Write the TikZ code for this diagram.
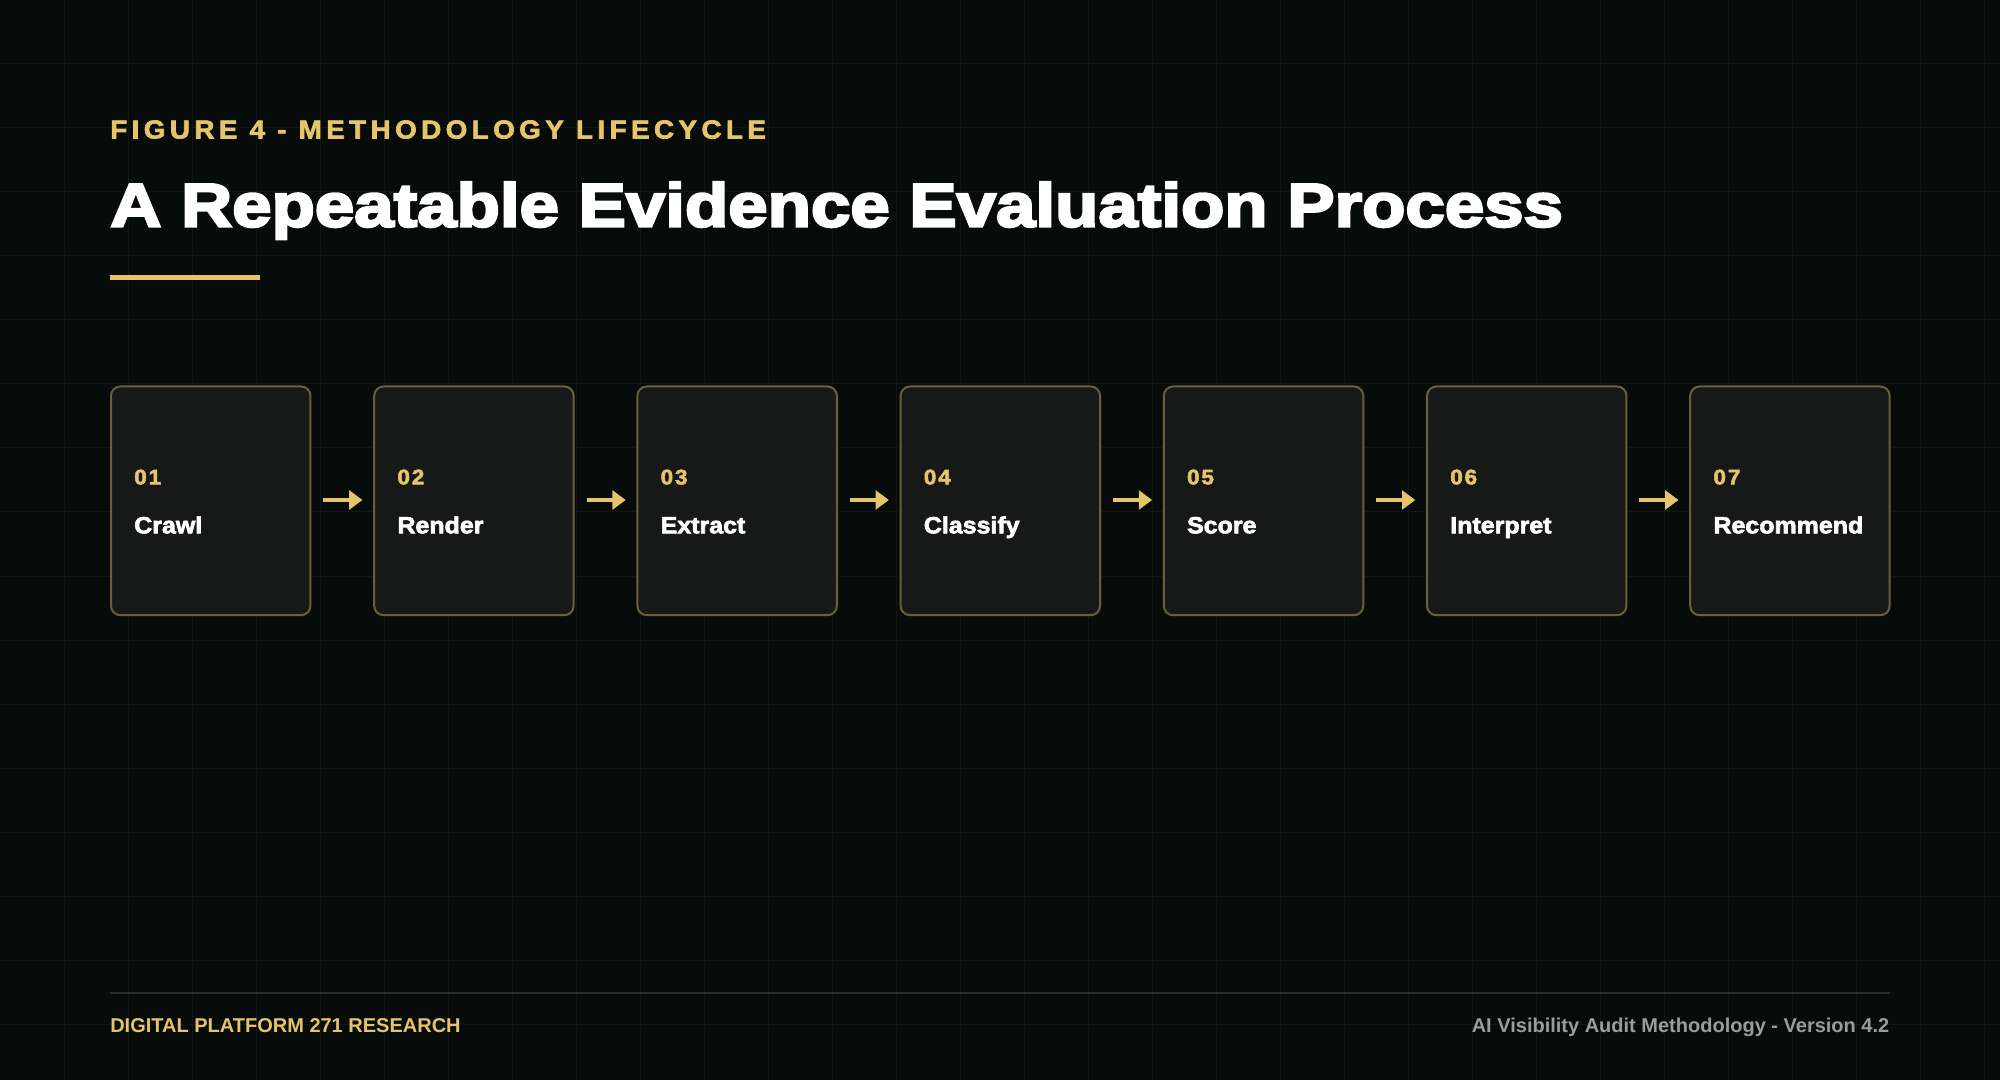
\documentclass[tikz,border=0pt]{standalone}
\usepackage{fontspec}
\setmainfont{Liberation Sans}
\newfontfamily\titlefont[FakeStretch=1.155,FakeBold=4]{Liberation Sans Bold}
\newfontfamily\labelfont[FakeStretch=1.07,FakeBold=2.5,LetterSpace=17]{Liberation Sans Bold}
\newfontfamily\numfont[FakeStretch=1.07,FakeBold=2.5,LetterSpace=9]{Liberation Sans Bold}
\newfontfamily\stepfont[FakeStretch=1.07,FakeBold=2.8]{Liberation Sans Bold}
\newfontfamily\footfont{Liberation Sans Bold}
\usetikzlibrary{arrows.meta}
\definecolor{bg}{HTML}{070B0A}
\definecolor{gridc}{HTML}{111615}
\definecolor{gold}{HTML}{E5C46A}
\definecolor{boxfill}{HTML}{171918}
\definecolor{boxline}{HTML}{6B5E3B}
\definecolor{footline}{HTML}{2B2F2E}
\definecolor{footgrey}{HTML}{9A9D9B}
\tikzset{
  stepbox/.style={draw=boxline, line width=1.5pt, fill=boxfill, rounded corners=7pt,
    minimum width=149.6pt, minimum height=171.5pt, inner sep=0pt, anchor=north west},
  numtext/.style={anchor=base west, inner sep=0pt, text=gold, font=\numfont\fontsize{15.75pt}{18pt}\selectfont},
  steptext/.style={anchor=base west, inner sep=0pt, text=white, font=\stepfont\fontsize{17.5pt}{20pt}\selectfont},
  flowarrow/.style={draw=gold, line width=3pt, -{Triangle[length=10pt,width=14pt]}, shorten <=9pt, shorten >=8pt}
}
\begin{document}
\begin{tikzpicture}[x=0.75pt,y=-0.75pt]
\useasboundingbox (0,0) rectangle (2000,1080);
\fill[bg] (0,0) rectangle (2000,1080);
\foreach \i in {64,128,...,1984} \draw[gridc, line width=0.75pt] (\i,0) -- (\i,1080);
\foreach \j in {64,128,...,1024} \draw[gridc, line width=0.75pt] (0,\j) -- (2000,\j);
% header
\node[anchor=base west, inner sep=0pt, text=gold, font=\labelfont\fontsize{19.5pt}{22pt}\selectfont] (fig) at (110,138.5) {FIGURE 4 - METHODOLOGY LIFECYCLE};
\node[anchor=base west, inner sep=0pt, text=white, font=\titlefont\fontsize{46pt}{50pt}\selectfont] (title) at (110,226.5) {A Repeatable Evidence Evaluation Process};
\fill[gold] (110,275) rectangle (260,280);
% steps
\foreach \k/\n/\t in {1/01/Crawl,2/02/Render,3/03/Extract,4/04/Classify,5/05/Score,6/06/Interpret,7/07/Recommend}{
  \pgfmathsetmacro{\xx}{110+263.2*(\k-1)}
  \node[stepbox] (b\k) at (\xx,385.5) {};
  \node[numtext] (n\k) at (\xx+24,484.3) {\n};
  \node[steptext] (t\k) at (\xx+24,533.3) {\t};
}
\foreach \a/\b in {1/2,2/3,3/4,4/5,5/6,6/7}{
  \draw[flowarrow] (b\a.east |- 0,500) -- (b\b.west |- 0,500);
}
% footer
\draw[footline, line width=1.5pt] (110,992.5) coordinate (fl) -- (1889.5,992.5) coordinate (fr);
\node[anchor=base west, inner sep=0pt, text=gold, font=\footfont\fontsize{15pt}{17pt}\selectfont] (fleft) at (110,1032.5) {DIGITAL PLATFORM 271 RESEARCH};
\node[anchor=base east, inner sep=0pt, text=footgrey, font=\footfont\fontsize{15pt}{17pt}\selectfont] (fright) at (1889.5,1032.5) {AI Visibility Audit Methodology - Version 4.2};
\end{tikzpicture}
\end{document}
